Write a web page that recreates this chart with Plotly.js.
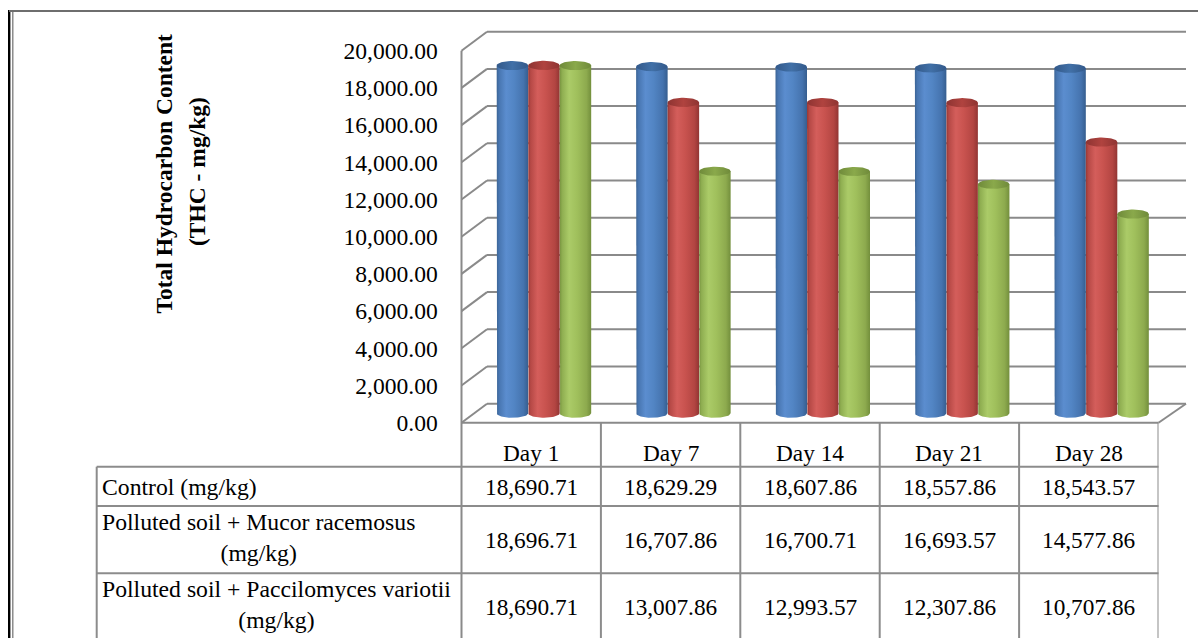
<!DOCTYPE html>
<html>
<head>
<meta charset="utf-8">
<script src="https://cdn.plot.ly/plotly-3.0.1.min.js"></script>
<style>
  html, body { margin: 0; padding: 0; background: #ffffff; }
  #chart { width: 1198px; height: 638px; }
</style>
</head>
<body>
<div id="chart"></div>
<script>
// ---- data ----------------------------------------------------------
const days = ['Day 1', 'Day 7', 'Day 14', 'Day 21', 'Day 28'];
const seriesLabels = [
  'Control (mg/kg)',
  'Polluted soil + Mucor racemosus<br>(mg/kg)',
  'Polluted soil + Paccilomyces variotii<br>(mg/kg)'
];
const control = [18690.71, 18629.29, 18607.86, 18557.86, 18543.57];
const mucor   = [18696.71, 16707.86, 16700.71, 16693.57, 14577.86];
const paecilo = [18690.71, 13007.86, 12993.57, 12307.86, 10707.86];
const yTicks  = [0, 2000, 4000, 6000, 8000, 10000, 12000, 14000, 16000, 18000, 20000];

// ---- geometry of the 3-D box (pixels) -------------------------------
const W = 1198, H = 638;
const Y_MAX = 20000;
const FRONT = { left: 461.5, right: 1158.5, zero: 422.7, top: 50.7 };
const BACK  = { left: 487.0, right: 1186.0, zero: 403.7, top: 31.7 };
const MID   = { left: 474.25, right: 1171.25, zero: 413.2, top: 41.2 };
const PX_PER_UNIT = (FRONT.zero - FRONT.top) / Y_MAX;

const FONT = 'Liberation Serif, Times New Roman, serif';
const GRID = '#8a8a8a';
const TABLE_LINE = '#8c8c8c';

function xDom(p) { return [p.left / W, p.right / W]; }
function yDom(p, lo, hi) {
  return [(H - (p.zero - lo * PX_PER_UNIT)) / H, (H - (p.zero - hi * PX_PER_UNIT)) / H];
}
const px = x => x / W;            // horizontal pixel -> paper
const py = y => (H - y) / H;      // vertical pixel -> paper
const planeY = (p, v) => p.zero - v * PX_PER_UNIT;

// ---- cylinders -----------------------------------------------------
const series = [control, mucor, paecilo];
const bodyScales = [
  [[0, '#3b6495'], [0.08, '#4876b1'], [0.3, '#5b8dcf'], [0.55, '#5285c4'], [0.85, '#4573ae'], [1, '#365e8f']],
  [[0, '#983835'], [0.08, '#b64946'], [0.3, '#d45e5b'], [0.55, '#c9534f'], [0.85, '#b34542'], [1, '#923533']],
  [[0, '#77933f'], [0.08, '#8fae51'], [0.3, '#abcb68'], [0.55, '#a0c05c'], [0.85, '#8daa4e'], [1, '#738f3c']]
];
const capScales = [
  [[0, '#33598a'], [0.5, '#4170a7'], [1, '#33598a']],
  [[0, '#8e3432'], [0.5, '#b0433f'], [1, '#8e3432']],
  [[0, '#6f8a3a'], [0.5, '#8aa94b'], [1, '#6f8a3a']]
];
const GROUP_WIDTH = 0.678;                 // share of a category slot
const BAR_WIDTH = GROUP_WIDTH / series.length;
const CAP_RY = 4.6 / PX_PER_UNIT;          // ellipse half-height in value units
const STEPS = 28;

const traces = [];
series.forEach((values, j) => {
  values.forEach((v, i) => {
    const xc = i + (j - (series.length - 1) / 2) * BAR_WIDTH;
    const rx = BAR_WIDTH / 2;
    // body: straight sides, rounded bottom
    const bx = [xc - rx], by = [v];
    for (let s = 0; s <= STEPS; s++) {
      const t = Math.PI * s / STEPS;
      bx.push(xc - rx * Math.cos(t));
      by.push(-CAP_RY * Math.sin(t));
    }
    bx.push(xc + rx); by.push(v);
    bx.push(xc - rx); by.push(v);
    traces.push({
      type: 'scatter', mode: 'lines', xaxis: 'x', yaxis: 'y',
      x: bx, y: by, fill: 'toself', line: { width: 0 },
      fillgradient: { type: 'horizontal', colorscale: bodyScales[j] },
      hoverinfo: 'skip', showlegend: false
    });
    // top cap ellipse
    const cx = [], cy = [];
    for (let s = 0; s <= 2 * STEPS; s++) {
      const t = Math.PI * s / STEPS;
      cx.push(xc + rx * Math.cos(t));
      cy.push(v + CAP_RY * Math.sin(t));
    }
    traces.push({
      type: 'scatter', mode: 'lines', xaxis: 'x', yaxis: 'y',
      x: cx, y: cy, fill: 'toself', line: { width: 0 },
      fillgradient: { type: 'horizontal', colorscale: capScales[j] },
      hoverinfo: 'skip', showlegend: false
    });
  });
});

// ---- shapes: frame, walls, floor, table ------------------------------
const shapes = [];
const seg = (x0, y0, x1, y1, color, width, layer) => ({
  type: 'line', xref: 'paper', yref: 'paper', layer: layer || 'above',
  x0: px(x0), y0: py(y0), x1: px(x1), y1: py(y1), line: { color: color, width: width }
});

// outer frame
shapes.push(seg(9.2, 10, 9.2, H, '#000000', 2.4));
shapes.push(seg(12.8, 12, 12.8, H, '#7a7a7a', 1.3));
shapes.push(seg(9, 11, W, 11, '#6e6e6e', 1.8));

// back wall gridlines and left wall depth lines
yTicks.forEach(v => {
  shapes.push(seg(BACK.left, planeY(BACK, v), BACK.right, planeY(BACK, v), GRID, 2, 'below'));
  shapes.push(seg(FRONT.left, planeY(FRONT, v), BACK.left, planeY(BACK, v), GRID, 2));
});
// left wall front edge, continuing as the table's left border
shapes.push(seg(FRONT.left, FRONT.top, FRONT.left, H, GRID, 2));
// floor: front edge and right depth edge
shapes.push(seg(FRONT.left, FRONT.zero, FRONT.right, FRONT.zero, GRID, 2));
shapes.push(seg(FRONT.right, FRONT.zero, BACK.right, BACK.zero, GRID, 2));

// data table grid (columns follow the category axis)
const TABLE = { labelLeft: 96.7, rows: [466.7, 506.0, 573.3] };
for (let k = 1; k <= days.length; k++) {
  shapes.push({ type: 'line', layer: 'above', xref: 'x2', yref: 'paper',
    x0: k - 0.5, x1: k - 0.5, y0: py(FRONT.zero), y1: 0, line: { color: TABLE_LINE, width: 2 } });
}
TABLE.rows.forEach(y => shapes.push(seg(TABLE.labelLeft, y, FRONT.right, y, TABLE_LINE, 2)));
shapes.push(seg(TABLE.labelLeft, TABLE.rows[0], TABLE.labelLeft, H, TABLE_LINE, 2));

// ---- annotations: axis title and table text --------------------------
const fmt = new Intl.NumberFormat('en-US', { minimumFractionDigits: 2, maximumFractionDigits: 2 });
const txt = size => ({ family: FONT, size: size || 23.3, color: '#000000' });
const annotations = [];

annotations.push({
  xref: 'paper', yref: 'paper', x: px(163), y: py(173.5), text: '<b>Total Hydrocarbon Content</b>',
  textangle: -90, showarrow: false, xanchor: 'center', yanchor: 'middle',
  font: { family: FONT, size: 23.5, color: '#000000' }
});
annotations.push({
  xref: 'paper', yref: 'paper', x: px(197), y: py(172), text: '<b>(THC - mg/kg)</b>',
  textangle: -90, showarrow: false, xanchor: 'center', yanchor: 'middle',
  font: { family: FONT, size: 23.5, color: '#000000' }
});

days.forEach((d, i) => {
  annotations.push({ xref: 'x2', yref: 'paper', x: i, y: py(453), text: d, showarrow: false,
    xanchor: 'center', yanchor: 'middle', font: txt() });
});

const rowCenters = [486.5, 539.0, 606.0];
seriesLabels.forEach((label, r) => {
  annotations.push({ xref: 'paper', yref: 'paper', x: px(99.5), y: py(rowCenters[r] - (r ? 1.5 : 0)), text: label,
    showarrow: false, xanchor: 'left', yanchor: 'middle', align: 'center', font: txt(23.7) });
  series[r].forEach((v, i) => {
    annotations.push({ xref: 'x2', yref: 'paper', x: i, y: py(rowCenters[r] + 0.5), text: fmt.format(v),
      showarrow: false, xanchor: 'center', yanchor: 'middle', font: txt() });
  });
});

// ---- axes ----------------------------------------------------------
const hiddenX = (dom, anchor) => ({
  domain: dom, anchor: anchor, range: [-0.5, days.length - 0.5], visible: false, fixedrange: true
});

const layout = {
  width: W, height: H,
  margin: { l: 0, r: 0, t: 0, b: 0, pad: 0 },
  paper_bgcolor: '#ffffff', plot_bgcolor: 'rgba(0,0,0,0)',
  showlegend: false, hovermode: false,
  font: { family: FONT, size: 23.3, color: '#000000' },
  // middle depth: the cylinders
  xaxis: hiddenX(xDom(MID), 'y'),
  yaxis: {
    domain: yDom(MID, -800, 20400), anchor: 'x', range: [-800, 20400],
    visible: false, fixedrange: true
  },
  // front plane: value labels and table columns
  xaxis2: hiddenX(xDom(FRONT), 'y2'),
  yaxis2: {
    domain: yDom(FRONT, -300, 20300), anchor: 'x2', range: [-300, 20300],
    tickmode: 'array', tickvals: yTicks, tickformat: ',.2f',
    ticks: 'outside', ticklen: 18, tickcolor: 'rgba(0,0,0,0)',
    tickfont: { family: FONT, size: 23.6, color: '#000000' },
    showgrid: false, zeroline: false, showline: false, fixedrange: true
  },
  shapes: shapes,
  annotations: annotations
};

Plotly.newPlot('chart', traces, layout, { staticPlot: true, displayModeBar: false });
</script>
</body>
</html>
